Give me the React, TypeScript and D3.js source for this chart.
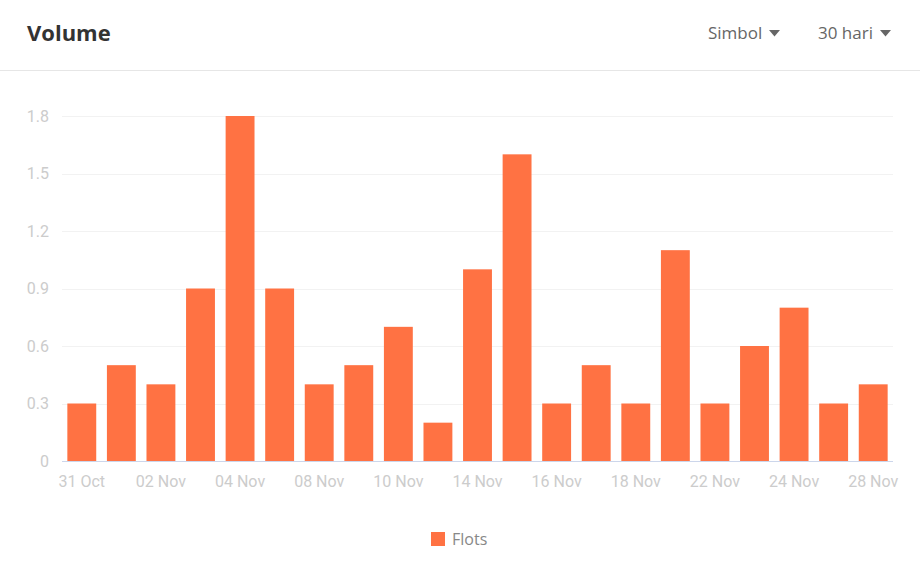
import React, { useEffect, useRef } from 'react';
import * as d3 from 'd3';

const dates = [
  '31 Oct', '01 Nov', '02 Nov', '03 Nov', '04 Nov', '07 Nov', '08 Nov',
  '09 Nov', '10 Nov', '11 Nov', '14 Nov', '15 Nov', '16 Nov', '17 Nov',
  '18 Nov', '21 Nov', '22 Nov', '23 Nov', '24 Nov', '25 Nov', '28 Nov',
];
const flots = [
  0.3, 0.5, 0.4, 0.9, 1.8, 0.9, 0.4, 0.5, 0.7, 0.2, 1.0,
  1.6, 0.3, 0.5, 0.3, 1.1, 0.3, 0.6, 0.8, 0.3, 0.4,
];
const yTicks = [0, 0.3, 0.6, 0.9, 1.2, 1.5, 1.8];

const width = 920;
const height = 572;
const barColor = '#ff7243';

const App: React.FC = () => {
  const svgRef = useRef<SVGSVGElement>(null);

  useEffect(() => {
    if (!svgRef.current) return;
    const svg = d3.select(svgRef.current);
    svg.selectAll('*').remove();

    const headerFont = '"Open Sans", "Noto Sans", sans-serif';
    const axisFont = 'Roboto, "DejaVu Sans", sans-serif';

    // Header
    svg.append('text')
      .attr('x', 27).attr('y', 41)
      .style('font-family', headerFont)
      .style('font-size', '22px')
      .style('font-weight', 'bold')
      .style('fill', '#333')
      .text('Volume');

    const drop = (label: string, x: number, arrowX: number) => {
      svg.append('text')
        .attr('x', x).attr('y', 39)
        .style('font-family', headerFont)
        .style('font-size', '17px')
        .style('fill', '#666')
        .text(label);
      svg.append('path')
        .attr('d', `M${arrowX},30 l11,0 l-5.5,6.5 z`)
        .style('fill', '#666');
    };
    drop('Simbol', 708, 769);
    drop('30 hari', 818, 880);

    svg.append('line')
      .attr('x1', 0).attr('x2', width)
      .attr('y1', 70.5).attr('y2', 70.5)
      .style('stroke', '#e6e6e6');

    // Chart
    const x = d3.scaleBand<string>()
      .domain(dates)
      .range([62, 893])
      .paddingInner(0.27)
      .paddingOuter(0.135);

    const y = d3.scaleLinear()
      .domain([0, 1.8])
      .range([461, 116]);

    svg.append('g')
      .selectAll('line')
      .data(yTicks.slice(1))
      .enter()
      .append('line')
      .attr('x1', 62).attr('x2', 893)
      .attr('y1', d => Math.round(y(d)) + 0.5)
      .attr('y2', d => Math.round(y(d)) + 0.5)
      .style('stroke', '#f2f2f2');

    svg.append('g')
      .selectAll('text')
      .data(yTicks)
      .enter()
      .append('text')
      .attr('x', 49)
      .attr('y', d => y(d) + 5.5)
      .attr('text-anchor', 'end')
      .style('font-family', axisFont)
      .style('font-size', '16px')
      .style('fill', '#cccccc')
      .text(d => (d === 0 ? '0' : d.toFixed(1)));

    svg.append('g')
      .selectAll('rect')
      .data(flots)
      .enter()
      .append('rect')
      .attr('x', (_, i) => x(dates[i])!)
      .attr('width', x.bandwidth())
      .attr('y', d => y(d))
      .attr('height', d => y(0) - y(d))
      .style('fill', barColor);

    svg.append('line')
      .attr('x1', 62).attr('x2', 893)
      .attr('y1', 461.5).attr('y2', 461.5)
      .style('stroke', '#ccd6eb');

    svg.append('g')
      .selectAll('text')
      .data(dates.filter((_, i) => i % 2 === 0))
      .enter()
      .append('text')
      .attr('x', d => x(d)! + x.bandwidth() / 2)
      .attr('y', 487)
      .attr('text-anchor', 'middle')
      .style('font-family', axisFont)
      .style('font-size', '16px')
      .style('fill', '#cccccc')
      .text(d => d);

    // Legend
    svg.append('rect')
      .attr('x', 431).attr('y', 532)
      .attr('width', 14).attr('height', 14)
      .style('fill', barColor);
    svg.append('text')
      .attr('x', 452).attr('y', 545)
      .style('font-family', headerFont)
      .style('font-size', '16px')
      .style('fill', '#888')
      .text('Flots');
  }, []);

  return (
    <svg
      ref={svgRef}
      width={width}
      height={height}
      style={{ position: 'absolute', left: 0, top: 0, background: '#fff' }}
    />
  );
};

export default App;
